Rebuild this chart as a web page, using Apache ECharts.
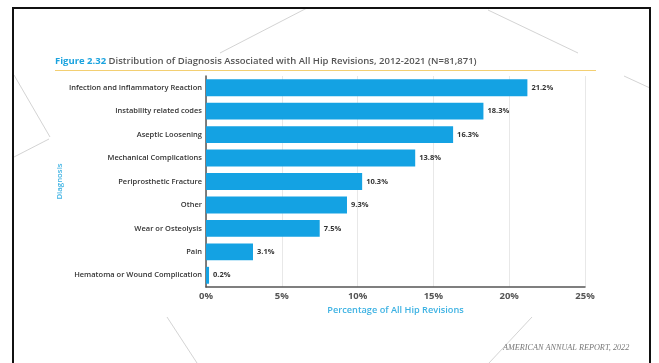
<!DOCTYPE html>
<html>
<head>
<meta charset="utf-8">
<script src="https://cdn.jsdelivr.net/npm/echarts@6/dist/echarts.min.js"></script>
<style>
  html, body { margin: 0; padding: 0; background: #fff; }
  #chart { width: 659px; height: 363px; }
</style>
</head>
<body>
<div id="chart"></div>
<script>
// Diagnoses behind hip revisions, listed top to bottom
const diagnoses = [
  'Infection and Inflammatory Reaction',
  'Instability related codes',
  'Aseptic Loosening',
  'Mechanical Complications',
  'Periprosthetic Fracture',
  'Other',
  'Wear or Osteolysis',
  'Pain',
  'Hematoma or Wound Complication'
];
// Share of all hip revisions (%)
const shares = [21.2, 18.3, 16.3, 13.8, 10.3, 9.3, 7.5, 3.1, 0.2];
// Percentage axis ticks
const xTicks = [0, 5, 10, 15, 20, 25];

const FONT = '"Open Sans", "Noto Sans", sans-serif';
const BLUE = '#14a2e3';
const NAME_BLUE = '#3db2e3';
const DECOR = '#c8c8c8';

const chart = echarts.init(document.getElementById('chart'), null, { renderer: 'canvas' });

// thin decorative strokes on the page background
const decorLines = [
  [220, 53, 307, 8],
  [488, 10, 578, 53],
  [624, 76, 650, 88],
  [14, 75, 50, 137],
  [49, 139, 14, 157],
  [167, 317, 197, 363],
  [532, 317, 489, 363]
];

chart.setOption({
  backgroundColor: '#ffffff',
  animation: false,
  title: {
    left: 55,
    top: 56,
    padding: 0,
    text: '{a|Figure 2.32}{b| Distribution of Diagnosis Associated with All Hip Revisions, 2012-2021 (N=81,871)}',
    textStyle: {
      rich: {
        a: { fontFamily: FONT, fontSize: 9.5, fontWeight: 700, color: '#1ba3df' },
        b: { fontFamily: FONT, fontSize: 9.5, fontWeight: 600, color: '#555555' }
      }
    }
  },
  grid: { left: 206, right: 74, top: 76, bottom: 76 },
  xAxis: {
    type: 'value',
    min: 0,
    max: 25,
    interval: 5,
    name: 'Percentage of All Hip Revisions',
    nameLocation: 'middle',
    nameGap: 15,
    nameTextStyle: { fontFamily: FONT, fontSize: 9.2, fontWeight: 600, color: NAME_BLUE },
    axisLine: { show: true, lineStyle: { color: '#555555', width: 1.5 } },
    axisTick: { show: false },
    axisLabel: {
      margin: 4,
      fontFamily: FONT,
      fontSize: 9.5,
      fontWeight: 700,
      color: '#555555',
      formatter: v => (xTicks.includes(v) ? v + '%' : '')
    },
    splitLine: { show: true, lineStyle: { color: '#e8e8e8', width: 1 } }
  },
  yAxis: {
    type: 'category',
    data: diagnoses,
    inverse: true,
    name: 'Diagnosis',
    nameLocation: 'middle',
    nameGap: 142,
    nameMoveOverlap: false,
    nameRotate: 90,
    nameTextStyle: { fontFamily: FONT, fontSize: 7.8, fontWeight: 600, color: NAME_BLUE },
    axisLine: { show: true, lineStyle: { color: '#555555', width: 1.5 } },
    axisTick: { show: false },
    axisLabel: {
      margin: 4,
      fontFamily: FONT,
      fontSize: 7.5,
      fontWeight: 600,
      color: '#333333'
    }
  },
  series: [{
    type: 'bar',
    data: shares,
    barCategoryGap: '28%',
    itemStyle: { color: BLUE },
    label: {
      show: true,
      position: 'right',
      distance: 4,
      fontFamily: FONT,
      fontSize: 7.5,
      fontWeight: 700,
      color: '#333333',
      formatter: p => p.value.toFixed(1) + '%'
    }
  }],
  graphic: [
    // page frame
    {
      type: 'rect',
      shape: { x: 13, y: 8, width: 637, height: 420 },
      style: { fill: 'none', stroke: '#111111', lineWidth: 2 },
      z: -1
    },
    // gold rule under the title
    {
      type: 'line',
      shape: { x1: 55, y1: 70.5, x2: 596, y2: 70.5 },
      style: { stroke: '#f3cf72', lineWidth: 1.2 }
    },
    ...decorLines.map(([x1, y1, x2, y2]) => ({
      type: 'line',
      shape: { x1, y1, x2, y2 },
      style: { stroke: DECOR, lineWidth: 0.8 },
      z: -2
    })),
    // footer credit
    {
      type: 'text',
      left: 503,
      top: 344,
      style: {
        text: 'AMERICAN ANNUAL REPORT, 2022',
        font: 'italic 8.2px "Liberation Serif", "DejaVu Serif", serif',
        fill: '#777777'
      }
    }
  ]
});
</script>
</body>
</html>
